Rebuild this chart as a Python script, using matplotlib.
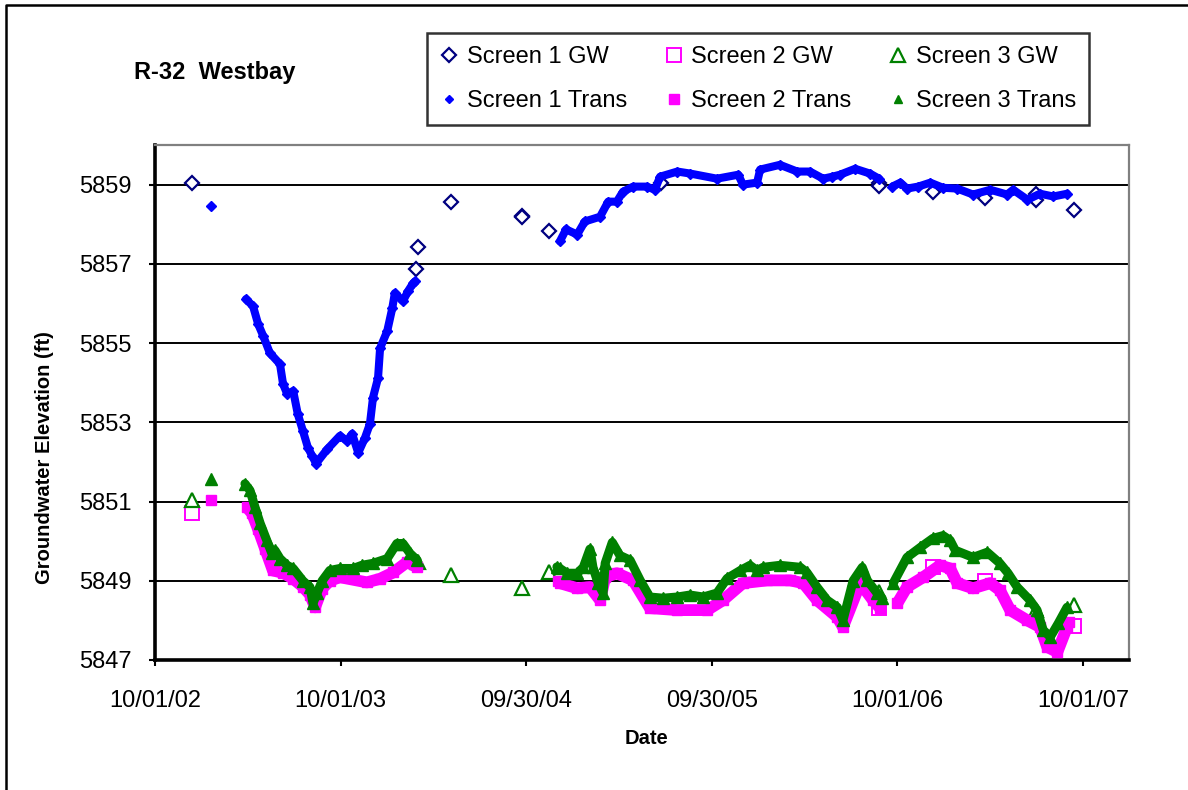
import numpy as np
import pandas as pd
import matplotlib
matplotlib.use("Agg")
import matplotlib.pyplot as plt
import matplotlib.dates as mdates
from matplotlib.lines import Line2D

plt.rcParams["font.family"] = ["Liberation Sans", "DejaVu Sans"]

nan = np.nan

# ---- colours ----
NAVY = "#000080"
BLUE = "#0000FF"
MAGENTA = "#FF00FF"
GREEN = "#008000"

# ---- manual GW readings ----
s1_gw_dates = ["2002-12-13", "2004-02-27", "2004-03-02", "2004-05-06", "2004-09-22",
               "2004-09-22", "2004-11-15", "2005-06-23", "2006-08-26", "2006-08-26",
               "2006-12-10", "2007-03-23", "2007-07-01", "2007-07-01", "2007-09-14"]
s1_gw_vals = [5859.03, 5856.86, 5857.42, 5858.55, 5858.22,
              5858.17, 5857.84, 5859.03, 5859.03, 5858.97,
              5858.82, 5858.67, 5858.77, 5858.60, 5858.37]

s2_gw_dates = ["2002-12-13", "2006-08-26", "2006-12-10", "2007-03-23", "2007-09-14"]
s2_gw_vals = [5850.72, 5848.31, 5849.34, 5849.00, 5847.86]

s3_gw_dates = ["2002-12-13", "2004-03-02", "2004-05-06", "2004-09-22", "2004-11-15",
               "2006-08-26", "2007-07-01", "2007-09-14"]
s3_gw_vals = [5851.05, 5849.47, 5849.14, 5848.81, 5849.21,
              5848.71, 5848.26, 5848.38]

# ---- transducer records (nan = data gap) ----
s1_tr_dates = ["2003-01-19", "2003-02-15",
               "2003-03-29", "2003-04-12", "2003-04-22", "2003-05-02", "2003-05-15", "2003-06-04",
               "2003-06-10", "2003-06-18", "2003-06-30", "2003-07-09", "2003-07-19", "2003-07-29",
               "2003-08-06", "2003-08-14", "2003-09-05", "2003-09-30", "2003-10-14", "2003-10-24",
               "2003-11-05", "2003-11-18", "2003-11-28", "2003-12-04", "2003-12-14", "2003-12-18",
               "2004-01-01", "2004-01-11", "2004-01-16", "2004-02-01", "2004-02-11", "2004-02-21",
               "2004-02-25", "2004-06-01",
               "2004-12-06", "2004-12-18", "2005-01-09", "2005-01-24", "2005-02-23", "2005-03-11",
               "2005-03-28", "2005-04-09", "2005-04-29", "2005-05-26", "2005-06-11", "2005-06-21",
               "2005-07-25", "2005-08-19", "2005-10-11", "2005-11-22", "2005-12-01", "2005-12-29",
               "2006-01-04", "2006-02-12", "2006-03-18", "2006-04-12", "2006-05-08", "2006-05-26",
               "2006-06-10", "2006-07-10", "2006-08-08", "2006-08-26", "2006-09-10",
               "2006-09-21", "2006-10-07", "2006-10-20", "2006-11-11", "2006-12-05", "2006-12-30",
               "2007-01-27", "2007-02-27", "2007-04-02", "2007-05-05", "2007-05-17", "2007-06-14",
               "2007-07-09", "2007-08-04", "2007-08-31"]
s1_tr_vals = [5858.47, nan,
              5856.11, 5855.93, 5855.48, 5855.18, 5854.75, 5854.47,
              5853.97, 5853.72, 5853.79, 5853.21, 5852.79, 5852.36,
              5852.16, 5851.96, 5852.32, 5852.66, 5852.53, 5852.71,
              5852.23, 5852.60, 5852.96, 5853.62, 5854.12, 5854.87,
              5855.30, 5855.88, 5856.26, 5856.06, 5856.31, 5856.51,
              5856.56, nan,
              5857.57, 5857.87, 5857.74, 5858.07, 5858.19, 5858.57,
              5858.57, 5858.82, 5858.95, 5858.95, 5858.87, 5859.20,
              5859.33, 5859.28, 5859.15, 5859.25, 5859.00, 5859.05,
              5859.38, 5859.50, 5859.33, 5859.33, 5859.15, 5859.20,
              5859.25, 5859.40, 5859.28, 5859.15, nan,
              5858.95, 5859.05, 5858.90, 5858.95, 5859.05, 5858.92,
              5858.90, 5858.75, 5858.87, 5858.75, 5858.87, 5858.62,
              5858.77, 5858.70, 5858.77]

s2_tr_dates = ["2003-01-19", "2003-02-15",
               "2003-03-31", "2003-04-10", "2003-04-22", "2003-05-06", "2003-05-21", "2003-06-10",
               "2003-06-30", "2003-07-19", "2003-08-02", "2003-08-12", "2003-08-26", "2003-09-10",
               "2003-09-30", "2003-11-22", "2003-12-18", "2004-01-13", "2004-02-09", "2004-02-29",
               "2004-06-01",
               "2004-12-02", "2004-12-06", "2005-01-09", "2005-02-03", "2005-02-23", "2005-03-05",
               "2005-03-28", "2005-04-29", "2005-06-01", "2005-07-25", "2005-09-22", "2005-10-23",
               "2005-12-01", "2006-01-18", "2006-03-04", "2006-03-30", "2006-04-26", "2006-06-05",
               "2006-06-16", "2006-07-20", "2006-08-14", "2006-08-28", "2006-09-15",
               "2006-10-01", "2006-10-20", "2006-11-21", "2006-12-24", "2007-01-13", "2007-01-27",
               "2007-02-27", "2007-04-02", "2007-04-21", "2007-05-11", "2007-06-14", "2007-07-09",
               "2007-07-23", "2007-08-12", "2007-08-31", "2007-09-03"]
s2_tr_vals = [5851.05, nan,
              5850.85, 5850.70, 5850.30, 5849.80, 5849.26, 5849.20,
              5849.05, 5848.85, 5848.65, 5848.33, 5848.80, 5849.00,
              5849.09, 5848.96, 5849.05, 5849.21, 5849.47, 5849.34,
              nan,
              5849.00, 5848.94, 5848.81, 5848.84, 5848.51, 5849.09,
              5849.19, 5849.01, 5848.31, 5848.26, 5848.26, 5848.51,
              5848.94, 5849.01, 5849.01, 5848.94, 5848.51, 5848.08,
              5847.83, 5848.94, 5848.51, 5848.31, nan,
              5848.43, 5848.84, 5849.09, 5849.39, 5849.31, 5848.94,
              5848.81, 5848.94, 5848.76, 5848.26, 5848.00, 5847.83,
              5847.33, 5847.20, 5847.83, 5847.95]

s3_tr_dates = ["2003-01-19", "2003-02-15",
               "2003-03-27", "2003-04-06", "2003-04-16", "2003-04-26", "2003-05-09", "2003-05-19",
               "2003-05-25", "2003-06-04", "2003-06-18", "2003-06-30", "2003-07-19", "2003-08-02",
               "2003-08-08", "2003-08-16", "2003-08-26", "2003-09-10", "2003-09-30", "2003-10-26",
               "2003-11-12", "2003-12-04", "2004-01-01", "2004-01-20", "2004-02-01", "2004-02-15",
               "2004-02-29", "2004-06-01",
               "2004-11-30", "2004-12-06", "2004-12-20", "2005-01-09", "2005-01-21", "2005-02-03",
               "2005-02-09", "2005-02-19", "2005-03-01", "2005-03-05", "2005-03-19", "2005-04-03",
               "2005-04-23", "2005-05-13", "2005-06-01", "2005-06-27", "2005-07-25", "2005-08-19",
               "2005-09-14", "2005-10-11", "2005-10-31", "2005-11-26", "2005-12-15", "2005-12-29",
               "2006-01-10", "2006-02-12", "2006-03-24", "2006-04-06", "2006-04-26", "2006-05-16",
               "2006-06-05", "2006-06-16", "2006-07-06", "2006-07-24", "2006-08-03", "2006-08-22",
               "2006-09-01", "2006-09-12",
               "2006-09-23", "2006-10-20", "2006-11-15", "2006-12-10", "2006-12-30", "2007-01-13",
               "2007-01-23", "2007-02-27", "2007-03-27", "2007-04-21", "2007-05-07", "2007-05-25",
               "2007-06-19", "2007-07-03", "2007-07-15", "2007-07-29", "2007-08-14", "2007-08-31"]
s3_tr_vals = [5851.58, nan,
              5851.45, 5851.28, 5850.85, 5850.45, 5850.02, 5849.69,
              5849.77, 5849.56, 5849.39, 5849.31, 5849.00, 5848.84,
              5848.43, 5848.69, 5849.00, 5849.26, 5849.31, 5849.31,
              5849.39, 5849.44, 5849.56, 5849.94, 5849.94, 5849.69,
              5849.52, nan,
              5849.35, 5849.31, 5849.19, 5849.19, 5849.34, 5849.80,
              5849.34, 5848.94, 5848.69, 5849.44, 5849.97, 5849.64,
              5849.52, 5849.01, 5848.59, 5848.56, 5848.59, 5848.64,
              5848.59, 5848.69, 5849.06, 5849.26, 5849.39, 5849.26,
              5849.34, 5849.39, 5849.34, 5849.21, 5848.84, 5848.51,
              5848.33, 5848.00, 5849.00, 5849.34, 5849.01, 5848.69,
              5848.56, nan,
              5848.94, 5849.59, 5849.84, 5850.07, 5850.14, 5850.02,
              5849.77, 5849.59, 5849.72, 5849.44, 5849.19, 5848.84,
              5848.51, 5848.26, 5847.76, 5847.58, 5847.93, 5848.33]

# axis: Excel-style date axis, major unit 365.25 days from 10/01/02
X_START = "2002-10-01"
X_SPAN_DAYS = 1917
XTICK_LABELS = ["10/01/02", "10/01/03", "09/30/04", "09/30/05", "10/01/06", "10/01/07"]
YTICKS = [5847, 5849, 5851, 5853, 5855, 5857, 5859]

W, H = 1188, 790
fig = plt.figure(figsize=(W / 100, H / 100), dpi=100)
ax = fig.add_axes([155 / W, 1 - 660 / H, (1129 - 155) / W, (660 - 145) / H])

d = pd.to_datetime
# transducer bands (dense logger records drawn as thick marker bands)
ax.plot(d(s1_tr_dates), s1_tr_vals, color=BLUE, lw=5.8, marker="D", ms=5,
        solid_joinstyle="round", solid_capstyle="round", zorder=4)
ax.plot(d(s2_tr_dates), s2_tr_vals, color=MAGENTA, lw=8.5, marker="s", ms=7.5,
        solid_joinstyle="round", solid_capstyle="butt", zorder=5)
ax.plot(d(s3_tr_dates), s3_tr_vals, color=GREEN, lw=6.5, marker="^", ms=8,
        solid_joinstyle="round", solid_capstyle="round", zorder=6)

ax.plot(d(s1_gw_dates), s1_gw_vals, ls="none", marker="D", ms=7, mfc="white",
        mec=NAVY, mew=1.6, zorder=3)
ax.plot(d(s2_gw_dates), s2_gw_vals, ls="none", marker="s", ms=10, mfc="white",
        mec=MAGENTA, mew=1.4, zorder=3)
ax.plot(d(s3_gw_dates), s3_gw_vals, ls="none", marker="^", ms=10, mfc="white",
        mec=GREEN, mew=1.6, zorder=3)

x0 = mdates.date2num(pd.Timestamp(X_START))
ax.set_xlim(x0, x0 + X_SPAN_DAYS)
ax.set_xticks([x0 + 365.25 * i for i in range(len(XTICK_LABELS))])
ax.set_xticklabels(XTICK_LABELS)
ax.set_ylim(5847, 5860)
ax.set_yticks(YTICKS)

ax.yaxis.grid(True, color="black", lw=1.4)
ax.set_axisbelow(True)
for s in ("left", "bottom"):
    ax.spines[s].set_color("black")
    ax.spines[s].set_linewidth(2.6)
for s in ("top", "right"):
    ax.spines[s].set_color("#808080")
    ax.spines[s].set_linewidth(1.6)
ax.tick_params(axis="both", direction="out", length=4.5, width=1.5, labelsize=17)
ax.tick_params(axis="x", pad=17)
ax.tick_params(axis="y", pad=12)

fig.text(45 / W, 1 - 458 / H, "Groundwater Elevation (ft)", rotation=90,
         ha="center", va="center", fontsize=14.5, fontweight="bold")
fig.text(647 / W, 1 - 738 / H, "Date", ha="center", va="center",
         fontsize=14.5, fontweight="bold")
fig.text(134 / W, 1 - 72 / H, "R-32  Westbay", ha="left", va="center",
         fontsize=17, fontweight="bold")

handles = [
    Line2D([], [], ls="none", marker="D", ms=7, mfc="white", mec=NAVY, mew=1.6),
    Line2D([], [], ls="none", marker="D", ms=4.5, color=BLUE),
    Line2D([], [], ls="none", marker="s", ms=10, mfc="white", mec=MAGENTA, mew=1.4),
    Line2D([], [], ls="none", marker="s", ms=6.5, color=MAGENTA),
    Line2D([], [], ls="none", marker="^", ms=10, mfc="white", mec=GREEN, mew=1.6),
    Line2D([], [], ls="none", marker="^", ms=6, color=GREEN),
]
labels = ["Screen 1 GW", "Screen 1 Trans", "Screen 2 GW", "Screen 2 Trans",
          "Screen 3 GW", "Screen 3 Trans"]
leg = fig.legend(handles, labels, ncol=3, loc="upper left", mode="expand",
                 bbox_to_anchor=(427 / W, 1 - 123 / H, 662 / W, 90 / H),
                 fontsize=17, frameon=True, fancybox=False, edgecolor="black",
                 borderpad=0.55, labelspacing=0.95, handlelength=0.8,
                 handletextpad=0.35, columnspacing=1.5, borderaxespad=0)
leg.get_frame().set_linewidth(1.8)

# outer chart-area border (cropped at right and bottom in the source)
fig.add_artist(Line2D([6 / W, 6 / W, 1.0], [0.0, 1 - 5 / H, 1 - 5 / H],
                      transform=fig.transFigure, color="black", lw=1.8))

fig.savefig("out.png", dpi=100, facecolor="white")
